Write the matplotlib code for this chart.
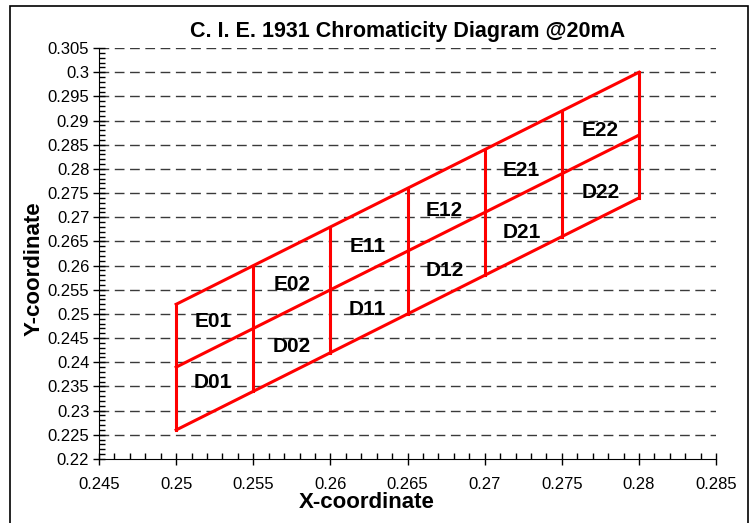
import numpy as np
import matplotlib.pyplot as plt
from matplotlib.ticker import MultipleLocator, FormatStrFormatter
from matplotlib.patches import Rectangle

# bin boundaries
x_nodes = [0.250, 0.255, 0.260, 0.265, 0.270, 0.275, 0.280]
y_bottom = [0.226, 0.234, 0.242, 0.250, 0.258, 0.266, 0.274]
y_middle = [0.239, 0.247, 0.255, 0.263, 0.271, 0.279, 0.287]
y_top = [0.252, 0.260, 0.268, 0.276, 0.284, 0.292, 0.300]

# bin labels
bin_names = ['E01', 'D01', 'E02', 'D02', 'E11', 'D11', 'E12', 'D12', 'E21', 'D21', 'E22', 'D22']
bin_x = [0.2524, 0.2524, 0.2575, 0.2575, 0.2624, 0.2624, 0.2674, 0.2674, 0.2724, 0.2724, 0.2775, 0.2775]
bin_y = [0.2484, 0.2359, 0.2560, 0.2432, 0.2640, 0.2510, 0.2715, 0.2589, 0.2797, 0.2669, 0.2880, 0.2752]

x_ticks = [0.245, 0.25, 0.255, 0.26, 0.265, 0.27, 0.275, 0.28, 0.285]
x_ticklabels = ['0.245', '0.25', '0.255', '0.26', '0.265', '0.27', '0.275', '0.28', '0.285']
y_ticks = np.round(np.arange(0.22, 0.3051, 0.005), 3)

plt.rcParams['font.family'] = ['Liberation Sans', 'DejaVu Sans']

fig = plt.figure(figsize=(7.53, 5.23), dpi=100)
ax = fig.add_axes([0.1315, 0.1224, 0.8195, 0.7856])

red = '#ff0000'
ax.plot(x_nodes, y_bottom, color=red, lw=2.2, zorder=3)
ax.plot(x_nodes, y_middle, color=red, lw=2.2, zorder=3)
ax.plot(x_nodes, y_top, color=red, lw=2.2, zorder=3)
for xn, yb, yt in zip(x_nodes, y_bottom, y_top):
    ax.plot([xn, xn], [yb, yt], color=red, lw=2.2, zorder=3)

for name, lx, ly in zip(bin_names, bin_x, bin_y):
    ax.text(lx, ly, name, ha='center', va='center', fontsize=15,
            fontweight='bold', zorder=4)

ax.set_xlim(0.245, 0.285)
ax.set_ylim(0.22, 0.305)
ax.set_xticks(x_ticks)
ax.set_xticklabels(x_ticklabels)
ax.set_yticks(y_ticks)
ax.yaxis.set_major_formatter(FormatStrFormatter('%g'))
ax.xaxis.set_minor_locator(MultipleLocator(0.001))
ax.yaxis.set_minor_locator(MultipleLocator(0.001))

for yv in y_ticks[1:]:
    ax.axhline(yv, color='#3a3a3a', lw=1, dashes=(7, 4), zorder=1)

ax.spines['top'].set_visible(False)
ax.spines['right'].set_visible(False)
ax.tick_params(which='major', direction='inout', length=8, width=1,
               labelsize=12, pad=3)
ax.tick_params(which='minor', direction='in', length=4, width=1)
ax.tick_params(axis='x', pad=9)

ax.set_title('C. I. E. 1931 Chromaticity Diagram @20mA', fontsize=15.5,
             fontweight='bold', pad=8)
ax.set_xlabel('X-coordinate', fontsize=16, fontweight='bold', va='center')
ax.xaxis.set_label_coords(0.434, -0.107)
ax.set_ylabel('Y-coordinate', fontsize=16, fontweight='bold', va='center')
ax.yaxis.set_label_coords(-0.105, 0.462)

fig.patches.append(Rectangle((10 / 753, -0.01), 738 / 753, 1.01 - 6 / 523,
                             transform=fig.transFigure, fill=False,
                             edgecolor='black', lw=1.2))

fig.savefig('out.png', dpi=100)
